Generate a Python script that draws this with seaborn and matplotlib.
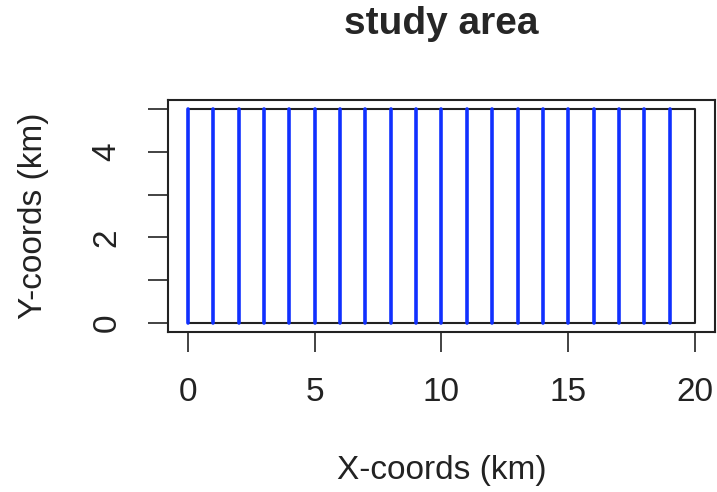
import numpy as np
import pandas as pd
import matplotlib
matplotlib.use('Agg')
import matplotlib.pyplot as plt
import seaborn as sns

# 数据
transect_x = [0, 1, 2, 3, 4, 5, 6, 7, 8, 9, 10, 11, 12, 13, 14, 15, 16, 17, 18, 19]
transect_y0 = 0
transect_y1 = 5
area_x = [0, 20, 20, 0, 0]
area_y = [0, 0, 5, 5, 0]
x_ticks = [0, 5, 10, 15, 20]
y_ticks = [0, 1, 2, 3, 4, 5]
y_ticklabels = ['0', '', '2', '', '4', '']

sns.set_style('white')
plt.rcParams['font.family'] = ['Liberation Sans', 'DejaVu Sans']

# 长表: 每条样线两个点
lines_df = pd.DataFrame({
    'x': np.repeat(transect_x, 2),
    'y': [transect_y0, transect_y1] * len(transect_x),
    'line': np.repeat(np.arange(len(transect_x)), 2),
})
area_df = pd.DataFrame({'x': area_x, 'y': area_y})

fig = plt.figure(figsize=(7.17, 4.92), dpi=100)
ax = fig.add_axes([0.2339, 0.326, 0.7637, 0.470])

sns.lineplot(data=area_df, x='x', y='y', sort=False, estimator=None,
             color='#222222', lw=1.5, ax=ax)
sns.lineplot(data=lines_df, x='x', y='y', units='line', estimator=None,
             sort=False, color='#1030ff', lw=2.6, ax=ax)

ax.set_xlim(-0.8, 20.8)
ax.set_ylim(-0.2, 5.2)
ax.set_xticks(x_ticks)
ax.set_xticklabels([str(v) for v in x_ticks])
ax.set_yticks(y_ticks)
ax.set_yticklabels(y_ticklabels, rotation=90, va='center')

for s in ax.spines.values():
    s.set_visible(True)
    s.set_color('#222222')
    s.set_linewidth(1.5)

ax.tick_params(axis='both', direction='out', length=14.4, width=1.2,
               color='#222222', labelsize=24, labelcolor='#222222')
ax.tick_params(axis='x', pad=18, bottom=True)
ax.tick_params(axis='y', pad=18, left=True)

ax.set_xlabel('X-coords (km)', fontsize=24, color='#222222', va='center')
ax.xaxis.set_label_coords(0.5, -0.60)
ax.set_ylabel('Y-coords (km)', fontsize=24, color='#222222', va='center')
ax.yaxis.set_label_coords(-0.246, 0.5)
ax.set_title('study area', fontsize=28, fontweight='bold', y=1.285, pad=0)

fig.savefig('out.png', dpi=100)
